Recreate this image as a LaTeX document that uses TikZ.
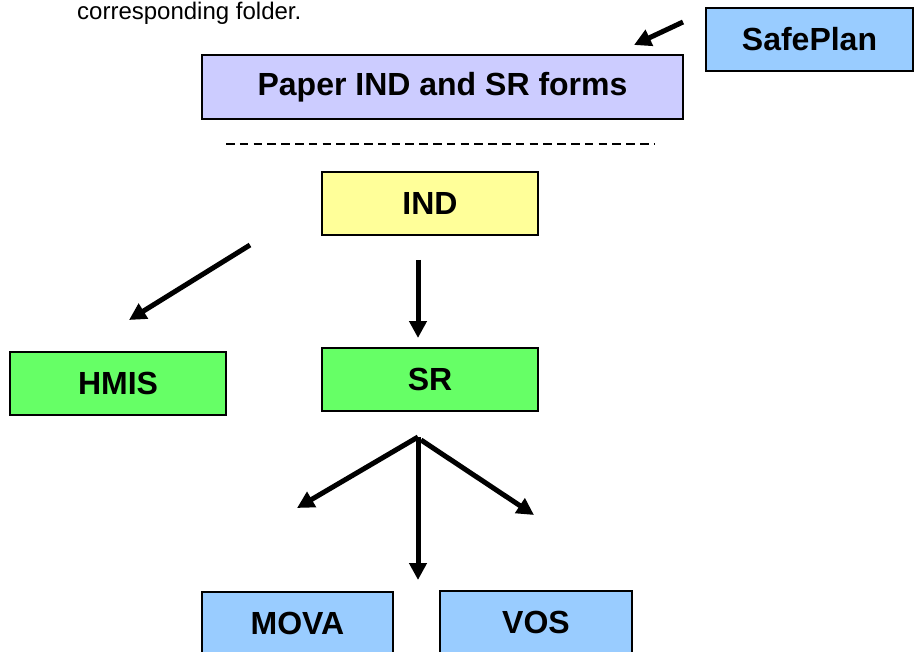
\documentclass[tikz,border=0pt]{standalone}
\usepackage{fontspec}
\setmainfont{Liberation Sans}
\usetikzlibrary{arrows.meta}
\begin{document}
\begin{tikzpicture}[x=1pt,y=-1pt,
  box/.style={draw=black, line width=1.8pt, minimum height=63pt, inner sep=0pt,
    font=\fontsize{32}{36}\selectfont\bfseries},
  blue/.style={fill={rgb,255:red,153;green,204;blue,255}},
  lav/.style={fill={rgb,255:red,204;green,204;blue,255}},
  yel/.style={fill={rgb,255:red,255;green,255;blue,153}},
  grn/.style={fill={rgb,255:red,102;green,255;blue,102}},
  arr/.style={line width=5pt, -{Triangle[length=17pt,width=17pt]}}]
\useasboundingbox (0,0) rectangle (915,652);
\clip (0,0) rectangle (915,652);
\node[anchor=base west, font=\fontsize{24}{28}\selectfont, inner sep=0pt] (cap) at (77,19.5) {corresponding folder.};
\node[box, blue, minimum width=207pt] (safe) at (809.5,39.5) {SafePlan};
\node[box, lav, minimum width=481pt, minimum height=64pt] (paper) at (442.5,87) {Paper IND and SR forms};
\draw[line width=1.3pt, dash pattern=on 8.5pt off 5.3pt] (226,144) -- (654,144);
\node[box, yel, minimum width=216pt] (ind) at (430,203.5) {IND};
\node[box, grn, minimum width=216pt] (hmis) at (118,383.5) {HMIS};
\node[box, grn, minimum width=216pt] (sr) at (430,379.5) {SR};
\node[box, blue, minimum width=191pt] (mova) at (297.5,623.5) {MOVA};
\node[box, blue, minimum width=192pt] (vos) at (536,622.5) {VOS};
% connector end points
\coordinate (s1) at (683,22);
\coordinate (s2) at (634,45);
\coordinate (h1) at (250,245);
\coordinate (h2) at (129,320);
\coordinate (i1) at (418,260);
\coordinate (i2) at (418,338);
\coordinate (fork) at (418,437);
\coordinate (m2) at (297,508);
\coordinate (d2) at (418,580);
\coordinate (v1) at (421,440);
\coordinate (v2) at (534,515);
\draw[arr] (s1) -- (s2);
\draw[arr] (h1) -- (h2);
\draw[arr] (i1) -- (i2);
\draw[arr] (fork) -- (m2);
\draw[arr] (fork) -- (d2);
\draw[arr] (v1) -- (v2);
\end{tikzpicture}
\end{document}
